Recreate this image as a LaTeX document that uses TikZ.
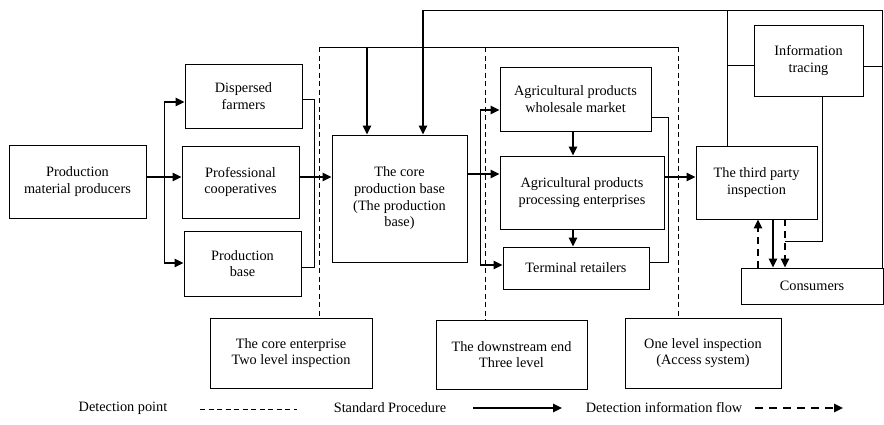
\documentclass[tikz,border=0pt]{standalone}
\usepackage{fontspec}
\setmainfont{Liberation Serif}
\usetikzlibrary{arrows.meta}
\begin{document}
\begin{tikzpicture}[x=1pt,y=-1pt,
  txt/.style={font=\fontsize{14.3}{16.7}\selectfont},
  box/.style={draw, line width=0.9pt, align=center, inner sep=2pt, txt},
  arr/.style={line width=1.4pt, -{Triangle[length=9pt,width=8.5pt]}},
  ln/.style={line width=0.9pt},
  det/.style={line width=0.8pt, dash pattern=on 5pt off 3.5pt},
  flow/.style={line width=1.4pt, dash pattern=on 7pt off 5pt, -{Triangle[length=9pt,width=8.5pt]}}]
\useasboundingbox (0,0) rectangle (884,424);

% boxes
\node[box, minimum width=137pt, minimum height=73pt] (prod) at (77.5,181.5) {Production\\material producers};
\node[box, minimum width=117pt, minimum height=64pt] (disp) at (243.5,96) {Dispersed\\farmers};
\node[box, minimum width=117pt, minimum height=72pt] (coop) at (240.5,182) {Professional\\cooperatives};
\node[box, minimum width=117pt, minimum height=65pt] (pbase) at (242.5,263.5) {Production\\base};
\node[box, minimum width=135pt, minimum height=127pt] (core) at (399.5,198.5) {The core\\production base\\(The production\\base)};
\node[box, minimum width=151pt, minimum height=64pt] (whole) at (575.5,99) {Agricultural products\\wholesale market};
\node[box, minimum width=164pt, minimum height=73pt] (proc) at (582,192.5) {Agricultural products\\processing enterprises};
\node[box, minimum width=146pt, minimum height=42pt] (term) at (576,268) {Terminal retailers};
\node[box, minimum width=121pt, minimum height=73pt] (third) at (756.5,182.5) {The third party\\inspection};
\node[box, minimum width=109pt, minimum height=71pt] (info) at (808.5,60.5) {Information\\tracing};
\node[box, minimum width=142pt, minimum height=36pt] (cons) at (812,286) {Consumers};
\node[box, minimum width=162pt, minimum height=70pt] (coreent) at (291,353) {The core enterprise\\Two level inspection};
\node[box, minimum width=151pt, minimum height=69pt] (down) at (511.5,354.5) {The downstream end\\Three level};
\node[box, minimum width=156pt, minimum height=70pt] (onelev) at (703,353) {One level inspection\\(Access system)};

% left branch
\draw[arr] ([yshift=4.5pt]prod.east) -- ([yshift=4.5pt]prod.east -| coop.west);
\coordinate (bt) at (164,102);
\coordinate (bb) at (164,263);
\draw[ln] (bt) -- (bb);
\draw[arr] (bt) -- (bt -| disp.west);
\draw[arr] (bb) -- (bb -| pbase.west);

% merge into core
\draw[ln] ([yshift=-3pt]disp.east) -- (314,99) -- (314,267) -- ([yshift=-3.5pt]pbase.east);
\draw[arr] ([yshift=5pt]coop.east) -- ([yshift=5pt]coop.east -| core.west);

% top lines into core
\draw[ln] (319,47) -- (678,47);
\coordinate (t1) at (367,47);
\draw[arr] (t1) -- (t1 |- core.north);
\coordinate (t2) at (423,10);
\draw[arr] (t2) -- (t2 |- core.north);
\draw[ln] (t2) -- (882,10) -- (882,268);

% core to downstream
\draw[arr] ([yshift=24.5pt]core.east) -- ([yshift=24.5pt]core.east -| proc.west);
\coordinate (dt) at (480,110);
\coordinate (db) at (480,265);
\draw[ln] (dt) -- (db);
\draw[arr] (dt) -- (dt -| whole.west);
\draw[arr] (db) -- (db -| term.west);
\draw[arr] ([xshift=-2.5pt]whole.south) -- ([xshift=-2.5pt]whole.south |- proc.north);
\draw[arr] ([xshift=-3pt]term.north |- proc.south) -- ([xshift=-3pt]term.north);
\draw[ln] ([yshift=-18pt]whole.east) -- (668,117) -- (668,262) -- ([yshift=6pt]term.east);
\draw[arr] ([yshift=15.5pt]proc.east) -- ([yshift=15.5pt]proc.east -| third.west);

% right side
\coordinate (r1) at (727,10);
\draw[ln] (r1) -- (r1 |- third.north);
\draw[ln] (727,65) -- ([yshift=-4.5pt]info.west);
\draw[ln] ([yshift=-5.5pt]info.east) -- (882,66);
\draw[ln] ([xshift=13.5pt]info.south) -- (822,241) -- (785,241);
\coordinate (fa) at (785,219);
\draw[flow] (fa) -- (fa |- cons.north);
\coordinate (fb) at (758,268);
\draw[flow] (fb) -- (fb |- third.south);
\coordinate (fc) at (773,219);
\draw[arr] (fc) -- (fc |- cons.north);

% detection points
\draw[det] (319,47) -- (319,47 |- coreent.north);
\draw[det] (485,47) -- (485,47 |- down.north);
\draw[det] (678,47) -- (678,47 |- onelev.north);

% legend
\node[txt] (l1) at (123,408) {Detection point};
\draw[det] (200,409) -- (297,409);
\node[txt] (l2) at (390,408) {Standard Procedure};
\draw[arr] (473,408) -- (562,408);
\node[txt] (l3) at (664,408) {Detection information flow};
\draw[line width=1.4pt, dash pattern=on 8pt off 6pt, -{Triangle[length=9pt,width=8.5pt]}] (755,408) -- (843,408);
\end{tikzpicture}
\end{document}
